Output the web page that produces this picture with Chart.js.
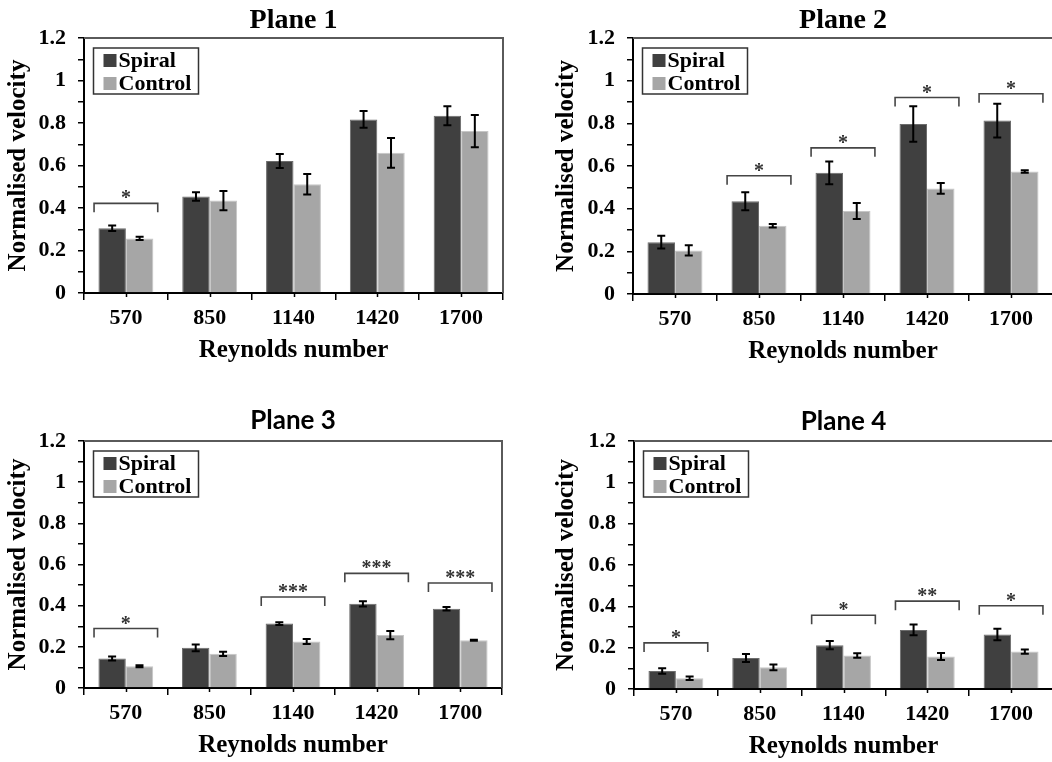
<!DOCTYPE html>
<html>
<head>
<meta charset="utf-8">
<script src="https://cdn.jsdelivr.net/npm/chart.js@4/dist/chart.umd.min.js"></script>
<style>
  html, body { margin: 0; padding: 0; background: #fff; overflow: hidden; width: 1052px; height: 762px; }
  canvas { position: absolute; }
</style>
</head>
<body>
<canvas id="plane1" width="526" height="381" style="left:0px;top:0px"></canvas>
<canvas id="plane2" width="532" height="381" style="left:526px;top:0px"></canvas>
<canvas id="plane3" width="526" height="381" style="left:0px;top:381px"></canvas>
<canvas id="plane4" width="532" height="381" style="left:526px;top:381px"></canvas>
<script>
// ---- data ----
const reynolds = ['570', '850', '1140', '1420', '1700'];
const seriesNames = ['Spiral', 'Control'];
const yTickLabels = ['0', '0.2', '0.4', '0.6', '0.8', '1', '1.2'];
const planeTitles = ['Plane 1', 'Plane 2', 'Plane 3', 'Plane 4'];
const xTitle = 'Reynolds number';
const yTitle = 'Normalised velocity';

const plane1Spiral     = [0.305, 0.454, 0.621, 0.817, 0.834];
const plane1SpiralErr  = [0.013, 0.020, 0.033, 0.039, 0.045];
const plane1Control    = [0.257, 0.435, 0.512, 0.660, 0.762];
const plane1ControlErr = [0.008, 0.045, 0.048, 0.070, 0.076];
const plane1SigCats    = [0];
const plane1SigLevels  = [0.422];
const plane1SigMarks   = ['*'];

const plane2Spiral     = [0.243, 0.435, 0.568, 0.797, 0.813];
const plane2SpiralErr  = [0.030, 0.042, 0.053, 0.083, 0.079];
const plane2Control    = [0.204, 0.320, 0.389, 0.495, 0.574];
const plane2ControlErr = [0.024, 0.008, 0.037, 0.025, 0.006];
const plane2SigCats    = [1, 2, 3, 4];
const plane2SigLevels  = [0.554, 0.685, 0.921, 0.939];
const plane2SigMarks   = ['*', '*', '*', '*'];

const plane3Spiral     = [0.143, 0.195, 0.313, 0.409, 0.385];
const plane3SpiralErr  = [0.010, 0.016, 0.007, 0.013, 0.008];
const plane3Control    = [0.106, 0.166, 0.226, 0.257, 0.232];
const plane3ControlErr = [0.005, 0.010, 0.012, 0.020, 0.003];
const plane3SigCats    = [0, 2, 3, 4];
const plane3SigLevels  = [0.289, 0.442, 0.557, 0.510];
const plane3SigMarks   = ['*', '***', '***', '***'];

const plane4Spiral     = [0.087, 0.150, 0.212, 0.286, 0.264];
const plane4SpiralErr  = [0.013, 0.019, 0.020, 0.026, 0.028];
const plane4Control    = [0.052, 0.105, 0.162, 0.157, 0.181];
const plane4ControlErr = [0.008, 0.014, 0.011, 0.017, 0.010];
const plane4SigCats    = [0, 2, 3, 4];
const plane4SigLevels  = [0.223, 0.357, 0.425, 0.403];
const plane4SigMarks   = ['*', '*', '**', '*'];

// ---- styling ----
const SERIF = "'Liberation Serif', 'Times New Roman', serif";
const SANS = "Lato, 'Noto Sans', sans-serif";
const SPIRAL_COLOR = '#404040';
const CONTROL_COLOR = '#a6a6a6';

// error bars, significance brackets, frame, legend box and panel title
const annotate = {
  id: 'annotate',
  afterDraw(chart, args, opts) {
    const ctx = chart.ctx;
    const xs = chart.scales.x, ys = chart.scales.y;
    const area = chart.chartArea;
    ctx.save();

    // top and right frame
    ctx.strokeStyle = '#5a5a5a';
    ctx.lineWidth = 2;
    ctx.beginPath();
    ctx.moveTo(area.left, area.top);
    ctx.lineTo(area.right, area.top);
    ctx.lineTo(area.right, area.bottom);
    ctx.stroke();

    // short ticks under each category centre
    ctx.strokeStyle = '#000';
    ctx.lineWidth = 1.5;
    chart.data.labels.forEach((_, i) => {
      const px = Math.round(xs.getPixelForValue(i)) + 0.5;
      ctx.beginPath();
      ctx.moveTo(px, area.bottom);
      ctx.lineTo(px, area.bottom + 4);
      ctx.stroke();
    });

    // error bars
    ctx.strokeStyle = '#000';
    ctx.lineWidth = 2;
    chart.data.datasets.forEach((ds, di) => {
      const meta = chart.getDatasetMeta(di);
      meta.data.forEach((bar, i) => {
        const v = ds.data[i], e = ds.errors[i];
        const yHi = ys.getPixelForValue(v + e);
        const yLo = ys.getPixelForValue(v - e);
        const cx = bar.x;
        ctx.beginPath();
        ctx.moveTo(cx, yHi); ctx.lineTo(cx, yLo);
        ctx.moveTo(cx - 4, yHi); ctx.lineTo(cx + 4, yHi);
        ctx.moveTo(cx - 4, yLo); ctx.lineTo(cx + 4, yLo);
        ctx.stroke();
      });
    });

    // significance brackets
    const catW = xs.width / chart.data.labels.length;
    ctx.strokeStyle = '#454545';
    ctx.lineWidth = 1.6;
    ctx.fillStyle = '#333';
    ctx.font = 'bold 20px ' + SERIF;
    ctx.textAlign = 'center';
    ctx.textBaseline = 'alphabetic';
    opts.sigCats.forEach((c, k) => {
      const cx = xs.getPixelForValue(c);
      const yTop = ys.getPixelForValue(opts.sigLevels[k]);
      const x0 = cx - catW * 0.38, x1 = cx + catW * 0.38;
      ctx.beginPath();
      ctx.moveTo(x0, yTop + 9);
      ctx.lineTo(x0, yTop);
      ctx.lineTo(x1, yTop);
      ctx.lineTo(x1, yTop + 9);
      ctx.stroke();
      ctx.fillText(opts.sigMarks[k], cx, yTop + 1);
    });

    // legend box
    const bx = area.left + 9.5, by = area.top + 10;
    ctx.strokeStyle = '#333';
    ctx.lineWidth = 1.5;
    ctx.strokeRect(bx, by, 105, 46);
    ctx.font = 'bold 22px ' + SERIF;
    ctx.textAlign = 'left';
    ctx.textBaseline = 'middle';
    chart.data.datasets.forEach((ds, di) => {
      const cy = by + 12.5 + di * 23;
      ctx.fillStyle = ds.backgroundColor;
      ctx.fillRect(bx + 10, cy - 6.5, 13, 13);
      ctx.fillStyle = '#000';
      ctx.fillText(ds.label, bx + 25, cy + 1);
    });

    // panel title
    ctx.fillStyle = '#000';
    ctx.font = opts.titleFont;
    ctx.textAlign = 'center';
    ctx.textBaseline = 'middle';
    ctx.fillText(opts.title, (area.left + area.right) / 2, area.top - opts.titleGap);

    ctx.restore();
  }
};

function makePanel(id, cfg) {
  return new Chart(document.getElementById(id), {
    type: 'bar',
    data: {
      labels: reynolds,
      datasets: [
        { label: seriesNames[0], data: cfg.spiral, errors: cfg.spiralErr,
          backgroundColor: SPIRAL_COLOR, borderColor: '#6c6c6c', borderWidth: 1 },
        { label: seriesNames[1], data: cfg.control, errors: cfg.controlErr,
          backgroundColor: CONTROL_COLOR, borderColor: '#c6c6c6', borderWidth: 1 }
      ]
    },
    options: {
      responsive: false,
      animation: false,
      devicePixelRatio: 1,
      layout: { autoPadding: false, padding: cfg.pad },
      datasets: { bar: { categoryPercentage: 0.655, barPercentage: 1 } },
      plugins: {
        legend: { display: false },
        tooltip: { enabled: false },
        title: { display: false },
        annotate: {
          title: cfg.title, titleFont: cfg.titleFont, titleGap: cfg.titleGap,
          sigCats: cfg.sigCats, sigLevels: cfg.sigLevels, sigMarks: cfg.sigMarks
        }
      },
      scales: {
        x: {
          z: 1,
          grid: { offset: true, drawOnChartArea: false, drawTicks: true, tickLength: 7, color: '#000', lineWidth: 1.5 },
          border: { display: true, color: '#000', width: 2 },
          ticks: { font: { family: SERIF, weight: 'bold', size: 22 }, color: '#000', padding: 5, maxRotation: 0, autoSkip: false },
          title: { display: true, text: xTitle, color: '#000', font: { family: SERIF, weight: 'bold', size: 25 }, padding: { top: 0, bottom: 0 } },
          afterFit(s) { s.height = 73; }
        },
        y: {
          z: 1,
          min: 0,
          max: 1.2,
          grid: { drawOnChartArea: false, drawTicks: true, tickLength: 6, color: '#000', lineWidth: 1.5 },
          border: { display: true, color: '#000', width: 2 },
          ticks: {
            stepSize: 0.1,
            autoSkip: false,
            font: { family: SERIF, weight: 'bold', size: 22 },
            color: '#000',
            padding: 12,
            callback(v) {
              const k = Math.round(v * 10);
              return k % 2 === 0 ? yTickLabels[k / 2] : '';
            }
          },
          title: { display: true, text: yTitle, color: '#000', font: { family: SERIF, weight: 'bold', size: 25 }, padding: { top: 4, bottom: 0 } },
          afterFit(s) { s.width = cfg.yWidth; }
        }
      }
    },
    plugins: [annotate]
  });
}

makePanel('plane1', {
  title: planeTitles[0], titleFont: 'bold 28px ' + SERIF, titleGap: 17,
  spiral: plane1Spiral, spiralErr: plane1SpiralErr, control: plane1Control, controlErr: plane1ControlErr,
  sigCats: plane1SigCats, sigLevels: plane1SigLevels, sigMarks: plane1SigMarks,
  pad: { left: 0, top: 38, right: 23, bottom: 15 }, yWidth: 84
});
makePanel('plane2', {
  title: planeTitles[1], titleFont: 'bold 28px ' + SERIF, titleGap: 17,
  spiral: plane2Spiral, spiralErr: plane2SpiralErr, control: plane2Control, controlErr: plane2ControlErr,
  sigCats: plane2SigCats, sigLevels: plane2SigLevels, sigMarks: plane2SigMarks,
  pad: { left: 22, top: 38, right: 5, bottom: 14 }, yWidth: 85
});
makePanel('plane3', {
  title: planeTitles[2], titleFont: 'bold 26px ' + SANS, titleGap: 20,
  spiral: plane3Spiral, spiralErr: plane3SpiralErr, control: plane3Control, controlErr: plane3ControlErr,
  sigCats: plane3SigCats, sigLevels: plane3SigLevels, sigMarks: plane3SigMarks,
  pad: { left: 0, top: 60, right: 24, bottom: 1 }, yWidth: 84
});
makePanel('plane4', {
  title: planeTitles[3], titleFont: 'bold 26px ' + SANS, titleGap: 19,
  spiral: plane4Spiral, spiralErr: plane4SpiralErr, control: plane4Control, controlErr: plane4ControlErr,
  sigCats: plane4SigCats, sigLevels: plane4SigLevels, sigMarks: plane4SigMarks,
  pad: { left: 22, top: 60, right: 5, bottom: 0 }, yWidth: 86
});
</script>
</body>
</html>
